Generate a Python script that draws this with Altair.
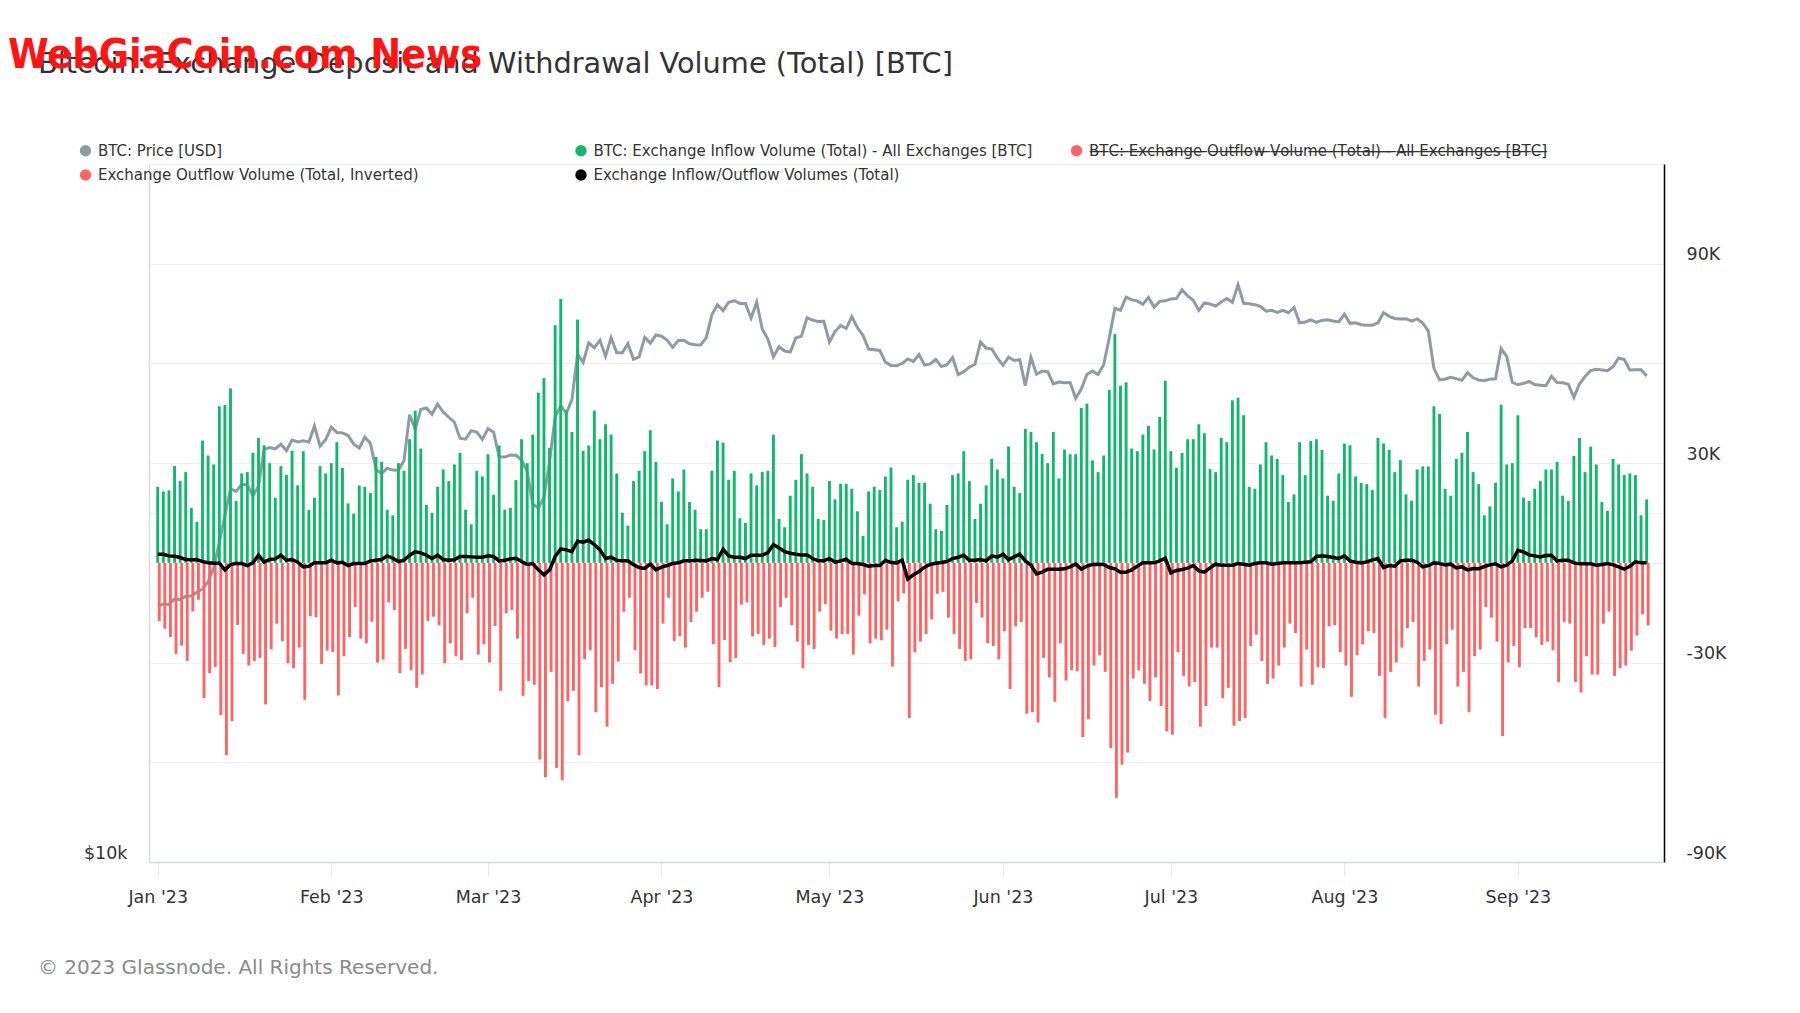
import altair as alt
import pandas as pd

# ---------------- text ----------------
title_text = "Bitcoin: Exchange Deposit and Withdrawal Volume (Total) [BTC]"
watermark_text = "WebGiaCoin.com News"
footer_text = "\u00a9 2023 Glassnode. All Rights Reserved."

s_price = "BTC: Price [USD]"
s_inflow = "BTC: Exchange Inflow Volume (Total) - All Exchanges [BTC]"
s_outflow = "BTC: Exchange Outflow Volume (Total) - All Exchanges [BTC]"
s_outinv = "Exchange Outflow Volume (Total, Inverted)"
s_net = "Exchange Inflow/Outflow Volumes (Total)"
series_names = [s_price, s_inflow, s_outflow, s_outinv, s_net]
series_colors = ["#8d9ba5", "#12b76f", "#fd6464", "#fd6464", "#000000"]

month_ticks = list(range(1, 10))

# ---------------- data (daily, 2023-01-01 .. 2023-09-24) ----------------
# BTC price, thousand USD
price_k = [
    16.63, 16.69, 16.68, 16.86, 16.84, 16.95, 16.96, 17.09, 17.20, 17.45, 17.93, 18.87, 19.91, 20.98, 20.88, 21.17,
    21.16, 20.69, 21.09, 22.68, 22.78, 22.72, 22.93, 22.64, 23.12, 23.03, 23.08, 23.03, 23.77, 22.84, 23.14,
    23.72, 23.47, 23.45, 23.33, 22.94, 22.76, 23.25, 22.96, 21.80, 21.63, 21.86, 21.78, 21.77, 22.20, 24.31, 23.62,
    24.57, 24.64, 24.33, 24.83, 24.44, 24.19, 23.95, 23.20, 23.16, 23.55, 23.49, 23.15,
    23.65, 23.48, 22.36, 22.35, 22.44, 22.43, 22.22, 21.72, 20.36, 20.19, 20.63, 22.16, 24.20, 24.75, 24.38, 25.05,
    27.42, 26.97, 28.04, 27.77, 28.18, 27.31, 28.33, 27.49, 27.49, 27.99, 27.14, 27.27, 28.35, 28.03, 28.48,
    28.41, 28.20, 27.79, 28.17, 28.18, 27.99, 27.94, 27.92, 28.33, 29.65, 30.24, 29.89, 30.40, 30.49, 30.32, 30.32,
    29.45, 30.40, 28.82, 28.25, 27.28, 27.82, 27.59, 27.53, 28.31, 28.42, 29.47, 29.34, 29.25, 29.27,
    28.09, 28.68, 29.03, 28.85, 29.54, 28.90, 28.46, 27.70, 27.66, 27.62, 26.99, 26.81, 26.79, 26.92, 27.16, 27.03,
    27.40, 26.83, 26.89, 27.13, 26.75, 26.85, 27.23, 26.33, 26.48, 26.72, 26.87, 28.09, 27.75, 27.70, 27.22,
    26.82, 27.25, 27.08, 27.12, 25.76, 27.24, 26.35, 26.51, 26.48, 25.85, 25.94, 25.90, 25.92, 25.12, 25.58, 26.33,
    26.51, 26.34, 26.85, 28.33, 30.03, 29.91, 30.70, 30.55, 30.48, 30.27, 30.69, 30.09, 30.45, 30.48,
    30.59, 30.62, 31.16, 30.78, 30.51, 29.91, 30.35, 30.29, 30.17, 30.41, 30.62, 30.39, 31.48, 30.33, 30.30, 30.25,
    30.15, 29.86, 29.91, 29.79, 29.91, 29.77, 30.08, 29.18, 29.23, 29.35, 29.21, 29.32, 29.36, 29.28, 29.23,
    29.68, 29.15, 29.18, 29.07, 29.04, 29.04, 29.18, 29.77, 29.56, 29.43, 29.40, 29.42, 29.28, 29.41, 29.17, 28.70,
    26.66, 26.05, 26.10, 26.19, 26.12, 26.03, 26.43, 26.16, 26.05, 26.01, 26.09, 26.11, 27.73, 27.30, 25.93,
    25.80, 25.87, 25.97, 25.81, 25.78, 25.75, 26.24, 25.91, 25.90, 25.83, 25.16, 25.84, 26.23, 26.54, 26.61, 26.57,
    26.53, 26.75, 27.21, 27.13, 26.57, 26.58, 26.58, 26.26,
]

# exchange inflow, thousand BTC
inflow_k = [
    22.9, 21.5, 21.8, 29.1, 24.6, 27.3, 16.5, 12.3, 36.8, 32.3, 29.6, 47.1, 47.5, 52.5, 18.6, 26.9, 27.3, 33.1,
    37.6, 35.4, 30.0, 19.6, 29.1, 26.5, 33.7, 23.3, 33.6, 15.9, 19.6, 29.1, 26.9, 30.0, 36.3, 28.6, 17.9, 14.8,
    23.3, 22.9, 21.0, 31.9, 30.4, 16.0, 14.3, 30.0, 27.7,
    37.2, 45.8, 34.4, 17.4, 15.1, 22.9, 28.1, 24.6, 29.6, 33.1, 16.0, 11.6, 27.7, 26.0, 32.7, 20.5, 35.3, 16.0,
    16.5, 24.9, 37.2, 30.0, 38.6, 51.2, 55.6, 34.6, 71.5, 79.4, 45.8, 39.4, 73.2, 33.7, 35.3, 45.8, 37.2, 41.7,
    38.6, 26.9, 15.1, 11.2, 24.6, 27.7, 33.6, 39.9, 30.4,
    18.4, 11.6, 25.4, 21.5, 28.1, 18.3, 16.0, 10.1, 10.1, 27.7, 36.8, 36.2, 25.0, 27.7, 13.4, 12.0, 26.9, 23.3,
    27.3, 27.7, 38.6, 13.2, 10.7, 20.2, 25.0, 32.7, 26.9, 22.9, 13.2, 12.9, 24.6, 19.1, 23.8, 23.8, 22.3, 15.5,
    8.1, 21.5, 22.9, 21.9, 26.0, 28.7, 10.7, 12.4, 25.0,
    26.4, 24.1, 24.1, 17.8, 10.1, 9.6, 17.4, 26.4, 26.9, 33.6, 24.6, 13.2, 17.8, 23.3, 31.3, 28.1, 25.4, 35.0,
    22.9, 21.0, 40.3, 39.4, 36.3, 32.7, 30.0, 39.4, 25.4, 34.1, 32.7, 32.7, 46.6, 47.9, 30.8, 27.3, 32.3, 52.0,
    68.8, 53.3, 54.3, 34.4, 33.6, 38.6, 41.2, 34.1, 43.9,
    54.8, 33.6, 28.6, 33.1, 37.2, 37.2, 41.7, 39.0, 28.2, 27.3, 37.6, 36.3, 48.9, 49.7, 44.4, 22.9, 22.3, 29.6,
    36.3, 32.3, 31.3, 26.4, 18.3, 20.6, 36.3, 26.4, 36.7, 37.2, 34.0, 20.2, 18.7, 26.9, 35.9, 35.4, 26.0, 24.1,
    23.7, 21.9, 37.6, 35.9, 34.0, 27.3, 30.9, 20.6, 18.7,
    28.1, 29.0, 29.0, 47.1, 44.8, 22.3, 20.2, 31.3, 33.1, 39.4, 27.3, 23.7, 14.3, 17.0, 24.1, 47.6, 29.6, 30.0,
    44.4, 19.6, 18.6, 22.3, 24.6, 28.1, 28.1, 30.4, 20.2, 18.6, 32.2, 37.6, 27.3, 35.0, 29.6, 18.3, 15.6, 31.3,
    29.6, 26.4, 26.9, 26.4, 14.3, 19.1,
]

# exchange outflow, thousand BTC (drawn inverted)
outflow_k = [
    17.5, 19.8, 22.3, 27.4, 24.9, 29.5, 14.6, 11.1, 40.7, 33.2, 31.3, 45.8, 57.8, 47.6, 18.7, 27.4, 30.9, 29.5,
    28.6, 42.6, 26.0, 18.3, 23.6, 30.2, 31.7, 25.5, 41.2, 16.0, 16.4, 30.4, 26.4, 26.8, 39.9, 28.1, 22.3, 13.3,
    22.8, 24.2, 17.7, 30.0, 29.1, 11.9, 14.2, 33.2, 25.9,
    32.3, 37.6, 33.6, 17.5, 16.2, 18.8, 30.2, 24.2, 28.1, 29.2, 15.2, 10.5, 27.6, 24.5, 30.0, 19.0, 38.5, 15.2,
    14.2, 22.8, 40.0, 35.6, 36.7, 59.2, 64.5, 32.8, 61.7, 65.4, 41.6, 38.5, 57.9, 29.0, 26.3, 44.9, 37.4, 49.3,
    36.4, 29.7, 14.7, 10.5, 26.3, 33.3, 36.9,
    36.9, 38.0, 18.3, 10.5, 23.5, 22.1, 25.5, 17.8, 14.7, 10.5, 8.7, 24.5, 37.4, 23.2, 29.9, 28.6, 12.6, 11.9,
    22.1, 21.4, 24.8, 22.8, 25.3, 13.3, 10.5, 18.8, 23.7, 31.7, 24.7, 25.9, 14.7, 12.4, 20.4, 22.8, 21.4, 21.4,
    27.6, 15.9, 9.5, 24.2, 22.8, 23.3, 20.1, 31.2, 11.6, 9.2,
    46.7, 26.9, 23.7, 21.4, 17.0, 9.3, 8.7, 16.5, 21.4, 25.9, 29.5, 29.0, 12.1, 16.5, 24.2, 25.0, 29.0, 20.6,
    38.0, 19.1, 17.8, 45.4, 44.9, 48.0, 28.6, 34.5, 41.8, 24.2, 35.4, 32.3, 32.6, 52.4, 47.1, 30.9, 27.8, 32.8,
    55.7, 70.7, 60.7, 57.1, 34.8, 32.3, 36.4, 41.6, 34.5,
    43.1, 50.7, 51.7, 26.9, 34.0, 37.2, 35.9, 49.3, 43.1, 25.5, 25.5, 40.7, 37.6, 49.0, 47.6, 46.7, 25.0, 21.6,
    29.5, 36.4, 34.8, 30.9, 25.5, 18.3, 21.1, 37.2, 26.1, 36.7, 31.4, 31.7, 19.1, 18.8, 26.9, 30.9, 40.3, 27.8,
    24.5, 20.6, 21.1, 34.0, 46.7, 32.8, 30.0, 25.5,
    19.6, 17.8, 37.2, 29.5, 26.1, 45.7, 48.5, 24.5, 20.1, 37.2, 32.8, 44.9, 28.1, 26.1, 13.3, 16.5, 23.7, 52.1,
    30.0, 25.0, 31.4, 19.6, 19.6, 22.4, 24.7, 23.7, 26.3, 35.9, 17.8, 18.3, 35.9, 39.0, 28.1, 33.6, 33.6, 18.3,
    14.7, 34.0, 31.7, 30.9, 26.4, 21.9, 15.5, 18.8,
]

# net inflow/outflow line, thousand BTC
net_k = [
    2.6, 2.6, 2.1, 2.0, 1.6, 1.0, 0.9, 1.0, 0.4, 0.0, -0.1, -0.1, -2.1, -0.5, -0.2, -0.2, -0.8, 0.0, 2.3, 0.2,
    1.0, 1.2, 2.3, 0.8, 1.0, 0.2, -1.2, -1.0, 0.0, 0.0, 0.0, 0.8, 0.0, 0.2, -0.8, -0.2, -0.2, -0.2, 0.6, 0.8,
    1.0, 2.1, 1.4, 0.4, 0.8,
    2.3, 3.3, 3.0, 2.3, 1.3, 2.3, 1.0, 0.8, 0.9, 1.9, 1.9, 1.8, 1.7, 1.7, 2.1, 1.9, 0.6, 0.8, 1.2, 1.4, 0.4,
    -0.5, -0.2, -2.1, -3.6, -2.1, 1.9, 4.2, 3.9, 3.4, 6.5, 6.2, 6.8, 5.5, 3.9, 1.3, 1.7, 0.8, 0.6, 0.6, -0.6,
    -1.4, -1.7, -0.4, -2.1,
    -1.3, -0.8, -0.2, 0.0, 0.6, 0.6, 0.8, 0.7, 0.6, 1.3, 1.0, 4.1, 2.1, 1.7, 1.7, 1.3, 2.3, 2.3, 2.3, 3.1, 5.5,
    4.5, 3.4, 2.9, 2.6, 2.4, 2.4, 1.3, 0.6, 0.6, 1.3, 0.2, 0.6, 1.1, -0.2, -0.2, -0.5, -1.0, -0.8, -0.8, 0.8,
    0.1, 0.0, 0.8, -4.9,
    -3.6, -2.6, -1.3, -0.5, -0.1, 0.1, 0.4, 1.3, 1.7, 2.3, 0.8, 0.8, 1.0, 0.6, 2.1, 1.7, 2.6, 1.0, 1.8, 2.6,
    0.6, -0.7, -3.3, -2.8, -1.9, -1.9, -1.9, -1.8, -1.2, -0.4, -1.9, -1.0, -0.5, -0.4, -0.5, -1.4, -1.8, -2.8,
    -2.8, -2.1, -1.0, 0.0, 0.0, 0.0, 0.6,
    1.4, -3.0, -2.3, -2.0, -1.6, -0.8, -2.4, -2.8, -1.5, -0.4, -0.7, -0.7, -0.7, -0.2, -0.4, -0.7, -0.2, 0.0,
    0.0, -0.4, -0.2, 0.0, 0.0, 0.0, 0.0, 0.2, 0.3, 1.9, 2.1, 1.9, 1.6, 1.3, 2.1, 0.6, 0.2, 0.0, 0.3, 0.9, 1.3,
    -1.4, -0.8, -1.0, 0.6, 0.8, 0.8,
    0.2, -1.2, -0.8, 0.0, -0.2, -0.6, -0.4, -1.5, -1.2, -2.1, -1.7, -1.8, -1.1, -0.6, -0.3, -1.2, -0.7, 0.6,
    3.8, 3.3, 2.4, 2.1, 1.8, 2.2, 2.3, 0.6, 0.8, 0.8, 0.0, -0.3, -0.3, -0.3, -0.7, -0.5, -0.2, -0.6, -1.2,
    -1.9, -1.0, 0.3, 0.0, 0.0,
]

n = len(price_k)
assert len(inflow_k) == n and len(outflow_k) == n and len(net_k) == n, (len(price_k), len(inflow_k), len(outflow_k), len(net_k))
dates = pd.date_range("2023-01-01", periods=n, freq="D").strftime("%Y-%m-%d").tolist()

df = pd.DataFrame({
    "date": dates,
    "price": [v * 1000 for v in price_k],
    "inflow": [v * 1000 for v in inflow_k],
    "outinv": [-v * 1000 for v in outflow_k],
    "net": [v * 1000 for v in net_k],
})

legend_df = pd.DataFrame({"series": series_names})

# ---------------- layout ----------------
W, H = 1515, 698
FONT = "DejaVu Sans"
TXT = "#333333"
C_PRICE, C_IN, C_OUT, C_NET = series_colors[0], series_colors[1], series_colors[3], series_colors[4]

x_enc = alt.X(
    "date:T",
    scale=alt.Scale(type="utc", domain=[
        alt.DateTime(year=2022, month=12, date=31, hours=8, utc=True),
        alt.DateTime(year=2023, month=9, date=26, hours=5, utc=True),
    ]),
    axis=alt.Axis(
        values=[alt.DateTime(year=2023, month=m, date=1, utc=True) for m in month_ticks],
        labelExpr="utcFormat(datum.value, \"%b '%y\")", title=None, grid=False,
        domainColor="#d5dbe0", domainWidth=1.5, ticks=True, tickColor="#e8e8e8", tickSize=14,
        labelPadding=12, labelFontSize=17.5, labelColor=TXT, labelFont=FONT,
    ),
)

strike_expr = (
    "datum.label == '" + s_outflow + "' ? replace(datum.label, regexp('(.)', 'g'), '$1\u0336') : datum.label"
)

legend = alt.Legend(
    title=None, orient="none", legendX=-71, legendY=-21, direction="horizontal",
    columns=3, gridAlign="all", columnPadding=16.5, rowPadding=8.5,
    symbolType="circle", symbolSize=130, symbolStrokeWidth=0, symbolOpacity=1, labelOffset=5,
    labelFontSize=15, labelFont=FONT, labelColor=TXT, labelLimit=700,
    labelExpr=strike_expr,
)

vol_scale = alt.Scale(domain=[-90000, 120000], nice=False)
vol_axis = alt.Axis(
    orient="right", values=[-90000, -60000, -30000, 0, 30000, 60000, 90000], title=None,
    labelExpr="abs(datum.value) == 30000 || abs(datum.value) == 90000 ? (datum.value / 1000) + 'K' : ''",
    grid=True, gridColor="#f0f0f0", gridWidth=1.2, ticks=False,
    domainColor="#000000", domainWidth=1.5,
    labelPadding=22, labelBaseline="bottom", labelFontSize=17.5, labelColor=TXT, labelFont=FONT,
)

base = alt.Chart(df)

price_line = base.mark_line(strokeWidth=3, interpolate="linear", color=C_PRICE).encode(
    x=x_enc,
    y=alt.Y(
        "price:Q",
        scale=alt.Scale(type="log", domain=[10000, 40000], nice=False),
        axis=alt.Axis(
            orient="left", values=[10000, 20000, 40000], title=None,
            labelExpr="datum.value == 10000 ? '$10k' : ''",
            grid=True, gridColor="#f0f0f0", gridWidth=1.2, ticks=False,
            domainColor="#d5dbe0", domainWidth=1.5,
            labelPadding=22, labelBaseline="bottom", labelFontSize=17.5, labelColor=TXT, labelFont=FONT,
        ),
    ),
)

inflow_bars = base.mark_bar(size=2.9, color=C_IN).encode(
    x=x_enc,
    y=alt.Y("inflow:Q", scale=vol_scale, axis=vol_axis),
    y2=alt.datum(0),
)

outflow_bars = base.mark_bar(size=2.9, xOffset=1.5, color=C_OUT).encode(
    x=x_enc,
    y=alt.Y("outinv:Q", scale=vol_scale, axis=None),
    y2=alt.datum(0),
)

net_line = base.mark_line(strokeWidth=3.5, interpolate="linear", color=C_NET).encode(
    x=x_enc,
    y=alt.Y("net:Q", scale=vol_scale, axis=None),
)

# legend-only layer: points parked off-canvas, legend drawn through the fill scale
legend_layer = alt.Chart(legend_df).mark_point(filled=True, size=100, opacity=1).encode(
    x=alt.value(-5000), y=alt.value(-5000),
    fill=alt.Fill("series:N", scale=alt.Scale(domain=series_names, range=series_colors), legend=legend),
)


def text_layer(txt, x, y, size, color, weight="normal", font=FONT):
    return alt.Chart(pd.DataFrame({"t": [txt]})).mark_text(
        align="left", baseline="middle", fontSize=size, color=color, fontWeight=weight, font=font
    ).encode(x=alt.value(x), y=alt.value(y), text="t:N")


title_mark = text_layer(title_text, -111, -100, 28.8, TXT)
footer_mark = text_layer(footer_text, -111, 804, 20, "#8a8a8a")
watermark_mark = text_layer(watermark_text, -141, -108, 41, "#ff1414", "bold",
                            "Liberation Sans Narrow, Arial Narrow, DejaVu Sans Condensed, sans-serif")

chart = alt.layer(
    price_line, inflow_bars, outflow_bars, net_line, legend_layer, title_mark, footer_mark, watermark_mark
).resolve_scale(
    y="independent"
).properties(
    width=W, height=H,
    autosize=alt.AutoSizeParams(type="none"),
    padding={"left": 141, "top": 156, "right": 120, "bottom": 130},
    background="white",
).configure_view(stroke=None)

chart.save("out.html", embed_options={"renderer": "svg", "actions": False})
